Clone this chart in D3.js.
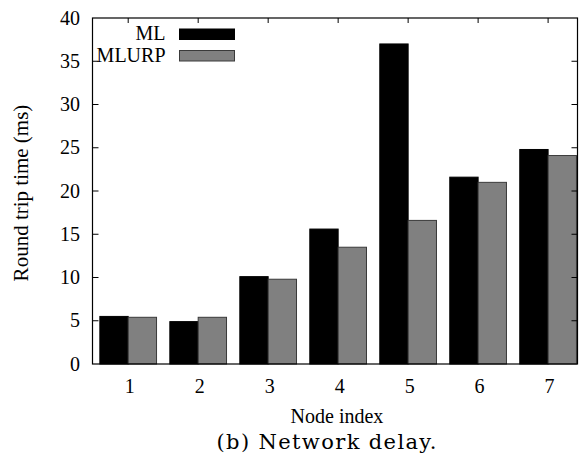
<!DOCTYPE html>
<html>
<head>
<meta charset="utf-8">
<script src="https://cdn.jsdelivr.net/npm/d3@7"></script>
<style>
  body { margin: 0; background: #fff; }
  svg { display: block; }
  text { font-family: "Liberation Serif", "Times New Roman", serif; }
</style>
</head>
<body>
<svg id="chart" width="581" height="458"></svg>
<script>
const nodes = [1, 2, 3, 4, 5, 6, 7];
const mlValues = [5.5, 4.9, 10.1, 15.6, 37.0, 21.6, 24.8];
const mlurpValues = [5.4, 5.4, 9.8, 13.5, 16.6, 21.0, 24.1];
const seriesNames = ["ML", "MLURP"];
const yTicks = [0, 5, 10, 15, 20, 25, 30, 35, 40];

const svg = d3.select("#chart");
const plotL = 92.5, plotR = 577.5, plotT = 18, plotB = 364;
const FS = 20;

const x = d3.scaleLinear().domain([0.49, 7.42]).range([plotL, plotR]);
const y = d3.scaleLinear().domain([0, 40]).range([plotB, plotT]);
const BAR_W = 0.405;

const series = [
  {name: seriesNames[0], values: mlValues, fill: "#000", stroke: "#000", off: -BAR_W},
  {name: seriesNames[1], values: mlurpValues, fill: "#808080", stroke: "#3a3a3a", off: 0}
];

// bars
series.forEach(s => {
  svg.append("g")
    .selectAll("rect")
    .data(nodes)
    .join("rect")
    .attr("x", d => x(d + s.off))
    .attr("width", x(BAR_W) - x(0))
    .attr("y", (d, i) => y(s.values[i]))
    .attr("height", (d, i) => y(0) - y(s.values[i]))
    .attr("fill", s.fill)
    .attr("stroke", s.stroke)
    .attr("stroke-width", 1);
});

// frame
svg.append("rect")
  .attr("x", plotL).attr("y", plotT)
  .attr("width", plotR - plotL).attr("height", plotB - plotT)
  .attr("fill", "none").attr("stroke", "#000").attr("stroke-width", 1.2);

// y ticks (inward both sides)
const yt = svg.append("g");
yt.selectAll("line.l").data(yTicks.slice(1, -1)).join("line")
  .attr("class", "l")
  .attr("x1", plotL).attr("x2", plotL + 6)
  .attr("y1", d => y(d)).attr("y2", d => y(d))
  .attr("stroke", "#000");
yt.selectAll("line.r").data(yTicks.slice(1, -1)).join("line")
  .attr("class", "r")
  .attr("x1", plotR).attr("x2", plotR - 6)
  .attr("y1", d => y(d)).attr("y2", d => y(d))
  .attr("stroke", "#000");
yt.selectAll("text").data(yTicks).join("text")
  .attr("x", 80)
  .attr("y", d => y(d) + 6.5)
  .attr("text-anchor", "end")
  .attr("font-size", FS)
  .text(d => d);

// x ticks (top, inward) and labels
const xt = svg.append("g");
xt.selectAll("line").data(nodes).join("line")
  .attr("x1", d => x(d)).attr("x2", d => x(d))
  .attr("y1", plotT).attr("y2", plotT + 5)
  .attr("stroke", "#000");
xt.selectAll("text").data(nodes).join("text")
  .attr("x", d => x(d) + 1.5)
  .attr("y", 392.5)
  .attr("text-anchor", "middle")
  .attr("font-size", FS)
  .text(d => d);

// axis titles
svg.append("text")
  .attr("transform", `translate(28,193) rotate(-90)`)
  .attr("text-anchor", "middle")
  .attr("font-size", 21)
  .text("Round trip time (ms)");
svg.append("text")
  .attr("x", 337)
  .attr("y", 423)
  .attr("text-anchor", "middle")
  .attr("font-size", FS)
  .text("Node index");
svg.append("text")
  .attr("x", 216.5)
  .attr("y", 448.5)
  .attr("font-size", 21)
  .attr("textLength", 220)
  .attr("lengthAdjust", "spacing")
  .style("font-family", "'DejaVu Serif', serif")
  .text("(b) Network delay.");

// legend
const leg = svg.append("g");
series.forEach((s, i) => {
  const base = 40 + i * 21.5;
  leg.append("text")
    .attr("x", 165.5).attr("y", base)
    .attr("text-anchor", "end")
    .attr("font-size", FS)
    .text(s.name);
  leg.append("rect")
    .attr("x", 179.5).attr("y", base - 11)
    .attr("width", 55).attr("height", 10.5)
    .attr("fill", s.fill)
    .attr("stroke", s.stroke);
});
</script>
</body>
</html>
